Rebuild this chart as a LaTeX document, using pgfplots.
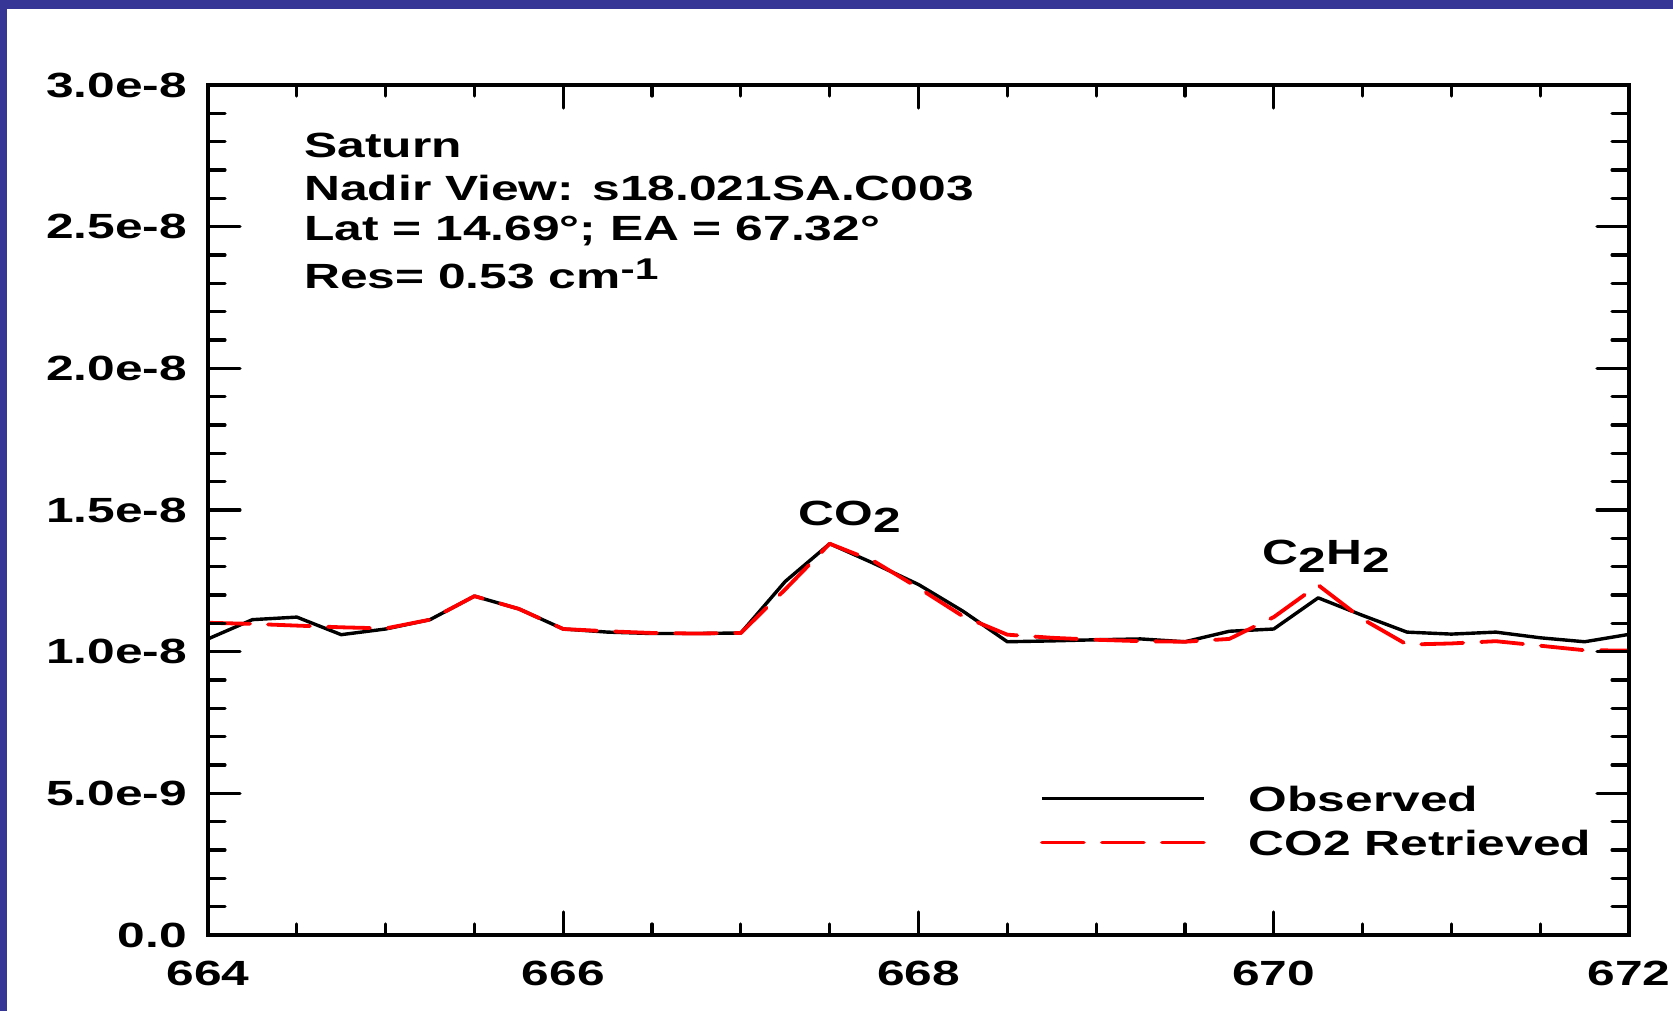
\documentclass[border=0pt]{standalone}
\usepackage{fontspec}
\setmainfont{Liberation Sans}[FakeStretch=1.42]
\usepackage{pgfplots}
\pgfplotsset{compat=1.18}
\definecolor{frameblue}{RGB}{54,54,150}
\newcommand{\lbl}{\fontsize{17.5}{21}\selectfont\bfseries}

\pgfplotstableread{
x obs ret
664.00 10.45 11.02
664.25 11.13 10.98
664.50 11.22 10.92
664.75 10.60 10.86
665.00 10.80 10.82
665.25 11.13 11.13
665.50 11.96 11.96
665.75 11.51 11.51
666.00 10.80 10.80
666.25 10.69 10.72
666.50 10.64 10.66
666.75 10.64 10.64
667.00 10.66 10.66
667.25 12.48 12.20
667.50 13.81 13.81
667.75 13.11 13.19
668.00 12.37 12.25
668.25 11.43 11.25
668.50 10.35 10.60
668.75 10.38 10.49
669.00 10.42 10.42
669.25 10.45 10.37
669.50 10.35 10.35
669.75 10.72 10.45
670.00 10.80 11.22
670.25 11.90 12.35
670.50 11.28 11.15
670.75 10.69 10.25
671.00 10.62 10.29
671.25 10.69 10.37
671.50 10.49 10.21
671.75 10.35 10.05
672.00 10.61 10.04
}\spectrum

\begin{document}
\begin{tikzpicture}
\useasboundingbox (-104pt,-38pt) rectangle (732.5pt,467.5pt);
\fill[frameblue] (-104pt,463pt) rectangle (732.5pt,467.5pt);
\fill[frameblue] (-104pt,-38pt) rectangle (-100.5pt,467.5pt);
\begin{axis}[
  at={(0pt,0pt)}, anchor=south west,
  scale only axis, width=710.5pt, height=425pt,
  xmin=664, xmax=672, ymin=0, ymax=30,
  xtick={664,666,668,670,672}, xticklabels={664,666,668,670,672},
  minor x tick num=3,
  ytick=\empty,
  tick align=inside,
  major tick length=11.5pt, minor tick length=5.5pt,
  axis line style={line width=1.6pt},
  tick style={black, line width=1.6pt, line cap=round},
  tick label style={font=\lbl},
  xticklabel style={yshift=-9.5pt},
  legend image code/.code={\draw[#1] (0pt,0pt) -- (81pt,0pt);},
  legend cell align=left,
  legend style={draw=none, fill=none, inner sep=0pt, outer sep=0pt,
    at={(rel axis cs:0.5855,0.1753)}, anchor=north west,
    row sep=9.5pt, font=\lbl,
    nodes={inner sep=0pt, text height=12.5pt, text depth=0pt},
    /tikz/every odd column/.append style={column sep=21.5pt}},
]
\addplot[black, line width=1.7pt, line join=round] table[x=x, y=obs] {\spectrum};
\addlegendentry{Observed}
\addplot[red, line width=1.9pt, line join=round, line cap=round, dash pattern=on 21pt off 9pt] table[x=x, y=ret] {\spectrum};
\addlegendentry{CO2 Retrieved}

\node[anchor=base west, font=\lbl, inner sep=0pt] at (axis cs:664.54,27.43) {Saturn};
\node[anchor=base west, font=\lbl, inner sep=0pt] at (axis cs:664.54,25.93) {Nadir View: s18.021SA.C003};
\node[anchor=base west, font=\lbl, inner sep=0pt] at (axis cs:664.54,24.50) {Lat = 14.69°; EA = 67.32°};
\node[anchor=base west, font=\lbl, inner sep=0pt] at (axis cs:664.54,22.80) {Res= 0.53 cm\raisebox{4.8pt}{\fontsize{15}{15}\selectfont -1}};
\node[anchor=base west, font=\lbl, inner sep=0pt] at (axis cs:667.322,14.45) {CO\raisebox{-3.7pt}{2}};
\node[anchor=base west, font=\lbl, inner sep=0pt] at (axis cs:669.935,13.06) {C\raisebox{-3.7pt}{2}H\raisebox{-3.7pt}{2}};
\end{axis}
\begin{axis}[
  at={(0pt,0pt)}, anchor=south west,
  scale only axis, width=710.5pt, height=425pt,
  xmin=664, xmax=672, ymin=0, ymax=30,
  xtick=\empty,
  ytick={0,5,10,15,20,25,30},
  yticklabels={0.0,5.0e-9,1.0e-8,1.5e-8,2.0e-8,2.5e-8,3.0e-8},
  minor y tick num=4,
  tick align=inside,
  major tick length=16pt, minor tick length=8.5pt,
  axis line style={line width=1.6pt},
  tick style={black, line width=1.6pt, line cap=round},
  tick label style={font=\lbl},
  yticklabel style={xshift=-7pt},
]
\end{axis}
\end{tikzpicture}
\end{document}
